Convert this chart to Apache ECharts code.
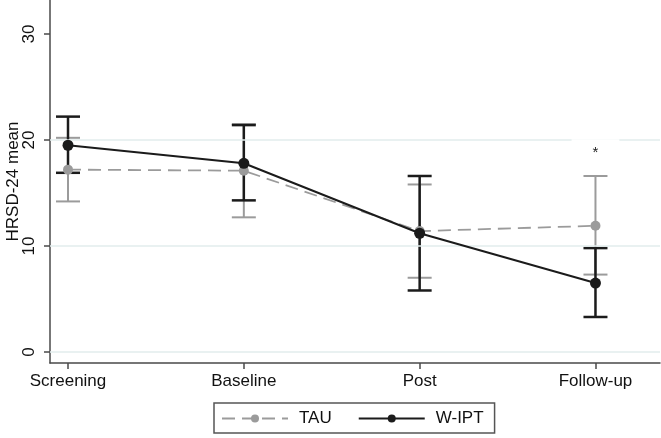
<!DOCTYPE html>
<html>
<head>
<meta charset="utf-8">
<script src="https://cdn.jsdelivr.net/npm/echarts@6/dist/echarts.min.js"></script>
<style>
html,body{margin:0;padding:0;background:#fff;}
#chart{width:661px;height:438px;}
</style>
</head>
<body>
<div id="chart"></div>
<script>
const categories = ['Screening', 'Baseline', 'Post', 'Follow-up'];
const tauMean = [17.2, 17.1, 11.4, 11.9];
const tauLow  = [14.2, 12.7, 7.0, 7.3];
const tauHigh = [20.2, 21.5, 15.8, 16.6];
const iptMean = [19.5, 17.8, 11.2, 6.5];
const iptLow  = [16.9, 14.3, 5.8, 3.3];
const iptHigh = [22.2, 21.4, 16.6, 9.8];
const yTicks = [0, 10, 20, 30];
const gridValues = [0, 10, 20];
const annotations = [{ idx: 3, value: 18.8, text: '*' }];

const FONT = '"Liberation Sans", Arial, sans-serif';
const GRAY = '#9b9b9b';
const BLACK = '#1b1b1b';

const chart = echarts.init(document.getElementById('chart'), null, { renderer: 'canvas' });

function errSeries(name, low, high, color, width) {
  return {
    type: 'custom',
    name: name + '-err',
    z: 3,
    silent: true,
    data: categories.map((c, i) => [i, low[i], high[i]]),
    renderItem: function (params, api) {
      const x = api.value(0);
      const lo = api.coord([x, api.value(1)]);
      const hi = api.coord([x, api.value(2)]);
      const hw = 12;
      const style = { stroke: color, lineWidth: width };
      return {
        type: 'group',
        children: [
          { type: 'line', shape: { x1: lo[0], y1: lo[1], x2: hi[0], y2: hi[1] }, style: style },
          { type: 'line', shape: { x1: lo[0] - hw, y1: lo[1], x2: lo[0] + hw, y2: lo[1] }, style: style },
          { type: 'line', shape: { x1: hi[0] - hw, y1: hi[1], x2: hi[0] + hw, y2: hi[1] }, style: style }
        ]
      };
    }
  };
}

const option = {
  animation: false,
  backgroundColor: '#fff',
  grid: { left: 50, right: 1, top: 0, bottom: 75, containLabel: false, outerBoundsMode: 'none' },
  xAxis: {
    type: 'value',
    min: -0.1024,
    max: 3.367,
    axisLine: { show: true, onZero: false, lineStyle: { color: '#4a4a4a', width: 1.5 } },
    axisTick: { show: true, customValues: [0, 1, 2, 3], length: 6, lineStyle: { color: '#4a4a4a', width: 1.5 } },
    axisLabel: {
      customValues: [0, 1, 2, 3],
      formatter: v => categories[Math.round(v)],
      color: '#111', fontFamily: FONT, fontSize: 17, margin: 10
    },
    splitLine: { show: false }
  },
  yAxis: {
    type: 'value',
    min: -1.04,
    max: 33.2,
    name: 'HRSD-24 mean',
    nameLocation: 'middle',
    nameGap: 37,
    nameMoveOverlap: false,
    nameTextStyle: { color: '#111', fontFamily: FONT, fontSize: 17, align: 'center', verticalAlign: 'middle' },
    axisLine: { show: true, onZero: false, lineStyle: { color: '#4a4a4a', width: 1.5 } },
    axisTick: { show: true, customValues: yTicks, length: 6, lineStyle: { color: '#4a4a4a', width: 1.5 } },
    axisLabel: {
      customValues: yTicks,
      rotate: 90,
      color: '#111', fontFamily: FONT, fontSize: 17, margin: 12
    },
    splitLine: { show: false }
  },
  legend: {
    data: ['TAU', 'W-IPT'],
    left: 214,
    top: 403,
    orient: 'horizontal',
    padding: [7, 11, 6, 7],
    borderColor: '#555',
    borderWidth: 1.5,
    itemWidth: 66,
    itemHeight: 10,
    itemGap: 26,
    textStyle: { color: '#111', fontFamily: FONT, fontSize: 17, padding: [0, 0, 0, 6] }
  },
  series: [
    {
      type: 'line',
      name: 'grid',
      z: 1,
      silent: true,
      data: [],
      markLine: {
        silent: true,
        symbol: 'none',
        label: { show: false },
        lineStyle: { color: '#e2eced', width: 1.5, type: 'solid' },
        data: gridValues.map(v => ({ yAxis: v }))
      }
    },
    errSeries('TAU', tauLow, tauHigh, GRAY, 2),
    {
      type: 'line',
      name: 'TAU',
      z: 4,
      data: categories.map((c, i) => [i, tauMean[i]]),
      symbol: 'circle',
      symbolSize: 10,
      lineStyle: { color: GRAY, width: 1.8, type: [13, 7] },
      itemStyle: { color: GRAY }
    },
    errSeries('W-IPT', iptLow, iptHigh, BLACK, 2.5),
    {
      type: 'line',
      name: 'W-IPT',
      z: 5,
      data: categories.map((c, i) => [i, iptMean[i]]),
      symbol: 'circle',
      symbolSize: 11,
      lineStyle: { color: BLACK, width: 2 },
      itemStyle: { color: BLACK }
    },
    {
      type: 'custom',
      name: 'annot',
      z: 10,
      silent: true,
      data: annotations.map(a => [a.idx, a.value]),
      renderItem: function (params, api) {
        const p = api.coord([api.value(0), api.value(1)]);
        return {
          type: 'text',
          style: {
            text: annotations[params.dataIndex].text,
            x: p[0], y: p[1],
            align: 'center', verticalAlign: 'middle',
            font: '15px ' + FONT,
            fill: '#222',
            backgroundColor: '#fff',
            padding: [10, 21, 2, 21]
          }
        };
      }
    }
  ]
};
chart.setOption(option);
</script>
</body>
</html>
